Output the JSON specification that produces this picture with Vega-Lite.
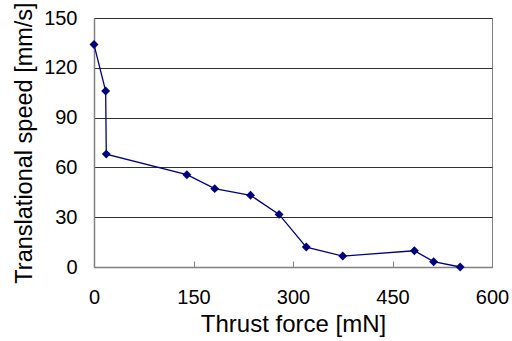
{
  "$schema": "https://vega.github.io/schema/vega-lite/v6.json",
  "width": 398,
  "height": 249,
  "autosize": {"type": "none"},
  "padding": {"left": 94, "top": 18, "right": 20, "bottom": 74},
  "background": "white",
  "config": {
    "view": {"stroke": "#808080", "strokeWidth": 1},
    "font": "Liberation Sans"
  },
  "data": {
    "values": [
      {"force": 0, "speed": 134},
      {"force": 17.6, "speed": 106},
      {"force": 18.5, "speed": 68},
      {"force": 140, "speed": 55.6},
      {"force": 182, "speed": 47.2},
      {"force": 236, "speed": 43.2},
      {"force": 279, "speed": 31.7},
      {"force": 320, "speed": 12},
      {"force": 375, "speed": 6.6},
      {"force": 483, "speed": 9.8},
      {"force": 512, "speed": 3.2},
      {"force": 552, "speed": 0}
    ]
  },
  "encoding": {
    "x": {
      "field": "force", "type": "quantitative",
      "scale": {"domain": [0, 600], "nice": false, "zero": true},
      "axis": {
        "title": "Thrust force [mN]", "values": [0, 150, 300, 450, 600],
        "grid": false, "domainColor": "#808080", "domainWidth": 1.5,
        "tickColor": "#808080", "tickSize": -6, "labelPadding": 26,
        "labelFontSize": 20, "labelColor": "black", "labelFont": "Liberation Sans",
        "titleFontSize": 24, "titleFontWeight": "normal", "titleColor": "black",
        "titleFont": "Liberation Sans", "titlePadding": 5, "labelFlush": false
      }
    },
    "y": {
      "field": "speed", "type": "quantitative",
      "scale": {"domain": [0, 150], "nice": false},
      "axis": {
        "title": "Translational speed [mm/s]", "values": [0, 30, 60, 90, 120, 150],
        "grid": true, "gridColor": "#303030", "gridWidth": 1,
        "domainColor": "#808080", "domainWidth": 1.5,
        "ticks": false, "labelPadding": 17,
        "labelFontSize": 20, "labelColor": "black", "labelFont": "Liberation Sans",
        "titleFontSize": 23.5, "titleFontWeight": "normal", "titleColor": "black",
        "titleFont": "Liberation Sans", "titlePadding": 7, "labelFlush": false
      }
    }
  },
  "layer": [
    {"mark": {"type": "line", "color": "#000080", "strokeWidth": 1.3}},
    {"mark": {"type": "point", "shape": "diamond", "filled": true, "color": "#000080", "size": 80, "opacity": 1}}
  ]
}
